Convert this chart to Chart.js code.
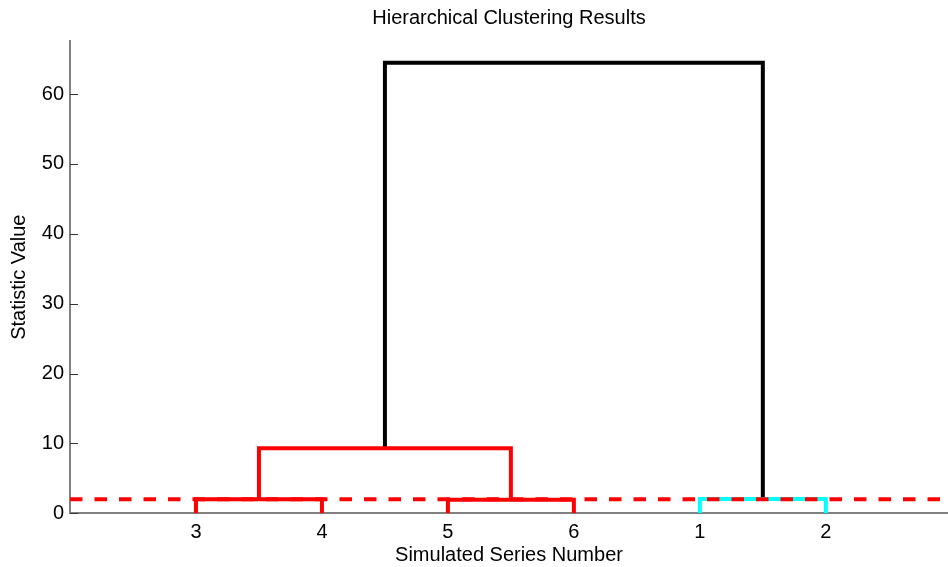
<!DOCTYPE html>
<html>
<head>
<meta charset="utf-8">
<title>Hierarchical Clustering Results</title>
<script src="https://cdn.jsdelivr.net/npm/chart.js@4.4.1/dist/chart.umd.min.js"></script>
<style>
  html, body { margin: 0; padding: 0; background: #fff; }
  #wrap { width: 948px; height: 567px; }
</style>
</head>
<body>
<div id="wrap"><canvas id="dendro"></canvas></div>
<script>
// leaves in the order they appear along the x axis
const leafOrder = [3, 4, 5, 6, 1, 2];

// linkage rows: cluster ids (1..6 = series, 7.. = new clusters) and merge height
const mergeA = [3, 5, 1, 7, 10];
const mergeB = [4, 6, 2, 8, 9];
const mergeHeight = [2.0, 1.95, 2.05, 9.3, 64.5];
const linkColors = ["#ff0000", "#ff0000", "#00ffff", "#ff0000", "#000000"];

const cutoff = 2.0;
const yTicks = [0, 10, 20, 30, 40, 50, 60];

const FONT = "'Liberation Sans', Arial, Helvetica, sans-serif";

// positions of every node (leaves first, then clusters)
const nodeX = {};
const nodeH = {};
leafOrder.forEach((leaf, i) => {
    nodeX[leaf] = i + 1;
    nodeH[leaf] = 0;
});

const linkSets = mergeA.map((a, i) => {
    const b = mergeB[i];
    const h = mergeHeight[i];
    const id = leafOrder.length + 1 + i;
    nodeX[id] = (nodeX[a] + nodeX[b]) / 2;
    nodeH[id] = h;
    return {
        data: [
            { x: nodeX[a], y: nodeH[a] },
            { x: nodeX[a], y: h },
            { x: nodeX[b], y: h },
            { x: nodeX[b], y: nodeH[b] },
        ],
        borderColor: linkColors[i],
        borderWidth: 4,
        showLine: true,
        pointRadius: 0,
        order: 1,
    };
});

const cutLine = {
    data: [{ x: 0, y: cutoff }, { x: 7, y: cutoff }],
    borderColor: "#ff0000",
    borderWidth: 4,
    borderDash: [12.5, 12],
    showLine: true,
    pointRadius: 0,
    order: 0,
};

// MATLAB style ticks that point into the plot
const innerTicks = {
    id: "innerTicks",
    afterDatasetsDraw(chart) {
        const { ctx, chartArea, scales } = chart;
        ctx.save();
        ctx.strokeStyle = "#333";
        ctx.lineWidth = 1;
        yTicks.forEach((v) => {
            const py = Math.round(scales.y.getPixelForValue(v)) + 0.5;
            ctx.beginPath();
            ctx.moveTo(chartArea.left, py);
            ctx.lineTo(chartArea.left + 8, py);
            ctx.stroke();
        });
        ctx.restore();
    },
};

new Chart(document.querySelector("#dendro"), {
    type: "scatter",
    data: { datasets: [cutLine, ...linkSets] },
    plugins: [innerTicks],
    options: {
        responsive: true,
        maintainAspectRatio: false,
        animation: false,
        layout: { padding: 0 },
        plugins: {
            legend: { display: false },
            tooltip: { enabled: false },
            title: {
                display: true,
                text: "Hierarchical Clustering Results",
                color: "#000",
                fullSize: false,
                font: { family: FONT, size: 20, weight: "normal", lineHeight: 1.2 },
                padding: { top: 6, bottom: 11 },
            },
        },
        scales: {
            x: {
                type: "linear",
                min: 0,
                max: 6.97,
                grid: { display: false, drawTicks: false },
                border: { display: true, color: "#808080", width: 2 },
                afterBuildTicks: (scale) => {
                    scale.ticks = leafOrder.map((_, i) => ({ value: i + 1 }));
                },
                afterFit: (scale) => { scale.height = 53.7; },
                ticks: {
                    color: "#000",
                    padding: 7,
                    maxRotation: 0,
                    font: { family: FONT, size: 20 },
                    callback: (value) => String(leafOrder[value - 1]),
                },
                title: {
                    display: true,
                    text: "Simulated Series Number",
                    color: "#000",
                    font: { family: FONT, size: 20, lineHeight: 1.2 },
                    padding: { top: 0, bottom: 0 },
                },
            },
            y: {
                min: 0,
                max: 67.6,
                grid: { display: false, drawTicks: false },
                border: { display: true, color: "#808080", width: 2 },
                afterBuildTicks: (scale) => {
                    scale.ticks = yTicks.map((v) => ({ value: v }));
                },
                afterFit: (scale) => { scale.width = 70; },
                ticks: {
                    color: "#000",
                    padding: 6,
                    font: { family: FONT, size: 20 },
                },
                title: {
                    display: true,
                    text: "Statistic Value",
                    color: "#000",
                    font: { family: FONT, size: 20, lineHeight: 1.2 },
                    padding: { top: 7.5, bottom: 0 },
                },
            },
        },
    },
});
</script>
</body>
</html>
